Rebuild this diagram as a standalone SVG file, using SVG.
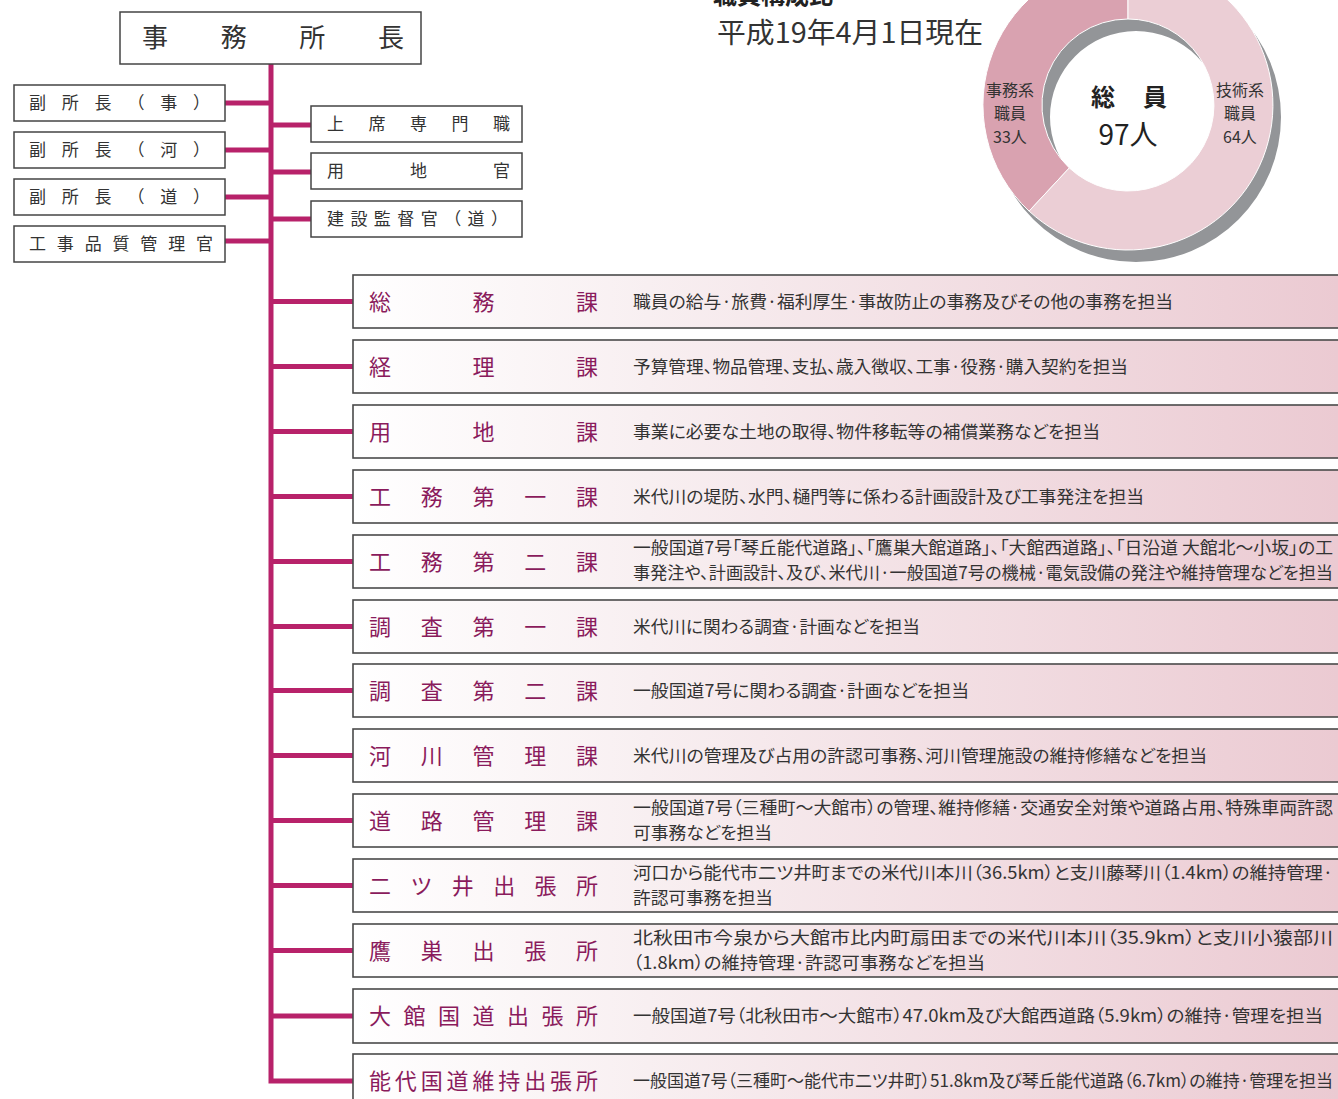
<svg xmlns="http://www.w3.org/2000/svg" width="1338" height="1099" viewBox="0 0 1338 1099">
<style>
.jp{font-family:"Noto Sans CJK JP","Noto Sans CJK SC",sans-serif;}
.box{fill:#fff;stroke:#444;stroke-width:1.5;}
.row{fill:url(#rowg);stroke:#4a4a4a;stroke-width:1.6;}
.sm{font-size:17px;fill:#333;}
.lbl{font-size:22px;fill:#8a1b5c;}
.desc{font-size:17.5px;fill:#333;font-feature-settings:"palt";}
.conn{stroke:#b8226a;stroke-width:5;fill:none;}
.dn{font-size:16px;fill:#333;text-anchor:middle;}
</style>
<defs>
<linearGradient id="rowg" gradientUnits="userSpaceOnUse" x1="353" y1="0" x2="1338" y2="0">
<stop offset="0" stop-color="#ffffff"/>
<stop offset="0.3" stop-color="#f8eff1"/>
<stop offset="1" stop-color="#ebcad2"/>
</linearGradient>
</defs>
<rect width="1338" height="1099" fill="#fff"/>

<g id="title">
<text class="jp" x="713" y="4" font-size="24" font-weight="bold" fill="#222" textLength="120" lengthAdjust="spacingAndGlyphs">職員構成比</text>
<text class="jp" x="717" y="43" font-size="28" fill="#333" textLength="266" lengthAdjust="spacingAndGlyphs">平成19年4月1日現在</text>
</g>

<g id="donut">
<path d="M1281,117 A145,145 0 1 1 991,117 A145,145 0 1 1 1281,117 Z M1222,117 A86,86 0 1 0 1050,117 A86,86 0 1 0 1222,117 Z" fill="#939598" fill-rule="evenodd"/>
<path d="M1128,-40 A145,145 0 0 0 1029.1,211.1 L1069.3,167.9 A86,86 0 0 1 1128,19 Z" fill="#d9a2b0" stroke="#fff" stroke-width="1"/>
<path d="M1128,-40 A145,145 0 1 1 1029.1,211.1 L1069.3,167.9 A86,86 0 1 0 1128,19 Z" fill="#ebced5" stroke="#fff" stroke-width="1"/>
<text class="jp dn" x="1010" y="96">事務系</text>
<text class="jp dn" x="1010" y="119">職員</text>
<text class="jp dn" x="1010" y="143">33人</text>
<text class="jp dn" x="1240" y="96">技術系</text>
<text class="jp dn" x="1240" y="119">職員</text>
<text class="jp dn" x="1240" y="143">64人</text>
<text class="jp" x="1091" y="106" font-size="24" font-weight="bold" fill="#222" textLength="76" lengthAdjust="spacing">総員</text>
<text class="jp" x="1128" y="145" font-size="28" fill="#222" text-anchor="middle">97人</text>
</g>

<g id="connectors">
<path class="conn" d="M271,64 V1081 H353"/>
<path class="conn" d="M225,103 H271 M225,150 H271 M225,197 H271 M225,241 H271"/>
<path class="conn" d="M271,125 H311 M271,172 H311 M271,219 H311"/>
<path class="conn" d="M271,301.5 H353 M271,366.5 H353 M271,431.5 H353 M271,496.5 H353 M271,561.5 H353 M271,626.5 H353 M271,690.5 H353 M271,755.5 H353 M271,820.5 H353 M271,885.5 H353 M271,950.5 H353 M271,1016 H353"/>
</g>

<g id="n-head">
<rect class="box" x="120" y="12" width="301" height="52"/>
<text class="jp" x="142" y="47" font-size="26" fill="#333" textLength="262" lengthAdjust="spacing">事務所長</text>
</g>

<g id="n-fuku1"><rect class="box" x="14" y="85" width="211" height="36"/><text class="jp sm" x="29" y="109" textLength="181" lengthAdjust="spacing">副所長（事）</text></g>
<g id="n-fuku2"><rect class="box" x="14" y="132" width="211" height="36"/><text class="jp sm" x="29" y="156" textLength="181" lengthAdjust="spacing">副所長（河）</text></g>
<g id="n-fuku3"><rect class="box" x="14" y="179" width="211" height="36"/><text class="jp sm" x="29" y="203" textLength="181" lengthAdjust="spacing">副所長（道）</text></g>
<g id="n-hinshitsu"><rect class="box" x="14" y="226" width="211" height="36"/><text class="jp sm" x="29" y="250" textLength="184" lengthAdjust="spacing">工事品質管理官</text></g>

<g id="n-joseki"><rect class="box" x="311" y="106" width="211" height="36"/><text class="jp sm" x="327" y="130" textLength="183" lengthAdjust="spacing">上席専門職</text></g>
<g id="n-yochikan"><rect class="box" x="311" y="153" width="211" height="36"/><text class="jp sm" x="327" y="177" textLength="183" lengthAdjust="spacing">用地官</text></g>
<g id="n-kensetsu"><rect class="box" x="311" y="201" width="211" height="36"/><text class="jp sm" x="327" y="225" textLength="181" lengthAdjust="spacing">建設監督官（道）</text></g>

<g id="n-somu"><rect class="row" x="353" y="275" width="990" height="53"/>
<text class="jp lbl" x="369" y="309.5" textLength="229" lengthAdjust="spacing">総務課</text>
<text class="jp desc" x="633" y="307.5" textLength="540" lengthAdjust="spacingAndGlyphs">職員の給与·旅費·福利厚生·事故防止の事務及びその他の事務を担当</text></g>

<g id="n-keiri"><rect class="row" x="353" y="340" width="990" height="53"/>
<text class="jp lbl" x="369" y="374.5" textLength="229" lengthAdjust="spacing">経理課</text>
<text class="jp desc" x="633" y="372.5" textLength="495" lengthAdjust="spacingAndGlyphs">予算管理、物品管理、支払、歳入徴収、工事·役務·購入契約を担当</text></g>

<g id="n-yochi"><rect class="row" x="353" y="405" width="990" height="53"/>
<text class="jp lbl" x="369" y="439.5" textLength="229" lengthAdjust="spacing">用地課</text>
<text class="jp desc" x="633" y="437.5" textLength="467" lengthAdjust="spacingAndGlyphs">事業に必要な土地の取得、物件移転等の補償業務などを担当</text></g>

<g id="n-komu1"><rect class="row" x="353" y="470" width="990" height="53"/>
<text class="jp lbl" x="369" y="504.5" textLength="229" lengthAdjust="spacing">工務第一課</text>
<text class="jp desc" x="633" y="502.5" textLength="511" lengthAdjust="spacingAndGlyphs">米代川の堤防、水門、樋門等に係わる計画設計及び工事発注を担当</text></g>

<g id="n-komu2"><rect class="row" x="353" y="535" width="990" height="53"/>
<text class="jp lbl" x="369" y="569.5" textLength="229" lengthAdjust="spacing">工務第二課</text>
<text class="jp desc" x="633" y="554" textLength="700" lengthAdjust="spacingAndGlyphs">一般国道7号「琴丘能代道路」、「鷹巣大館道路」、「大館西道路」、「日沿道 大館北～小坂」の工</text>
<text class="jp desc" x="633" y="579" textLength="700" lengthAdjust="spacingAndGlyphs">事発注や、計画設計、及び、米代川·一般国道7号の機械·電気設備の発注や維持管理などを担当</text></g>

<g id="n-chosa1"><rect class="row" x="353" y="600" width="990" height="53"/>
<text class="jp lbl" x="369" y="634.5" textLength="229" lengthAdjust="spacing">調査第一課</text>
<text class="jp desc" x="633" y="632.5" textLength="287" lengthAdjust="spacingAndGlyphs">米代川に関わる調査·計画などを担当</text></g>

<g id="n-chosa2"><rect class="row" x="353" y="664" width="990" height="53"/>
<text class="jp lbl" x="369" y="698.5" textLength="229" lengthAdjust="spacing">調査第二課</text>
<text class="jp desc" x="633" y="696.5" textLength="336" lengthAdjust="spacingAndGlyphs">一般国道7号に関わる調査·計画などを担当</text></g>

<g id="n-kasen"><rect class="row" x="353" y="729" width="990" height="53"/>
<text class="jp lbl" x="369" y="763.5" textLength="229" lengthAdjust="spacing">河川管理課</text>
<text class="jp desc" x="633" y="761.5" textLength="574" lengthAdjust="spacingAndGlyphs">米代川の管理及び占用の許認可事務、河川管理施設の維持修繕などを担当</text></g>

<g id="n-doro"><rect class="row" x="353" y="794" width="990" height="53"/>
<text class="jp lbl" x="369" y="828.5" textLength="229" lengthAdjust="spacing">道路管理課</text>
<text class="jp desc" x="633" y="814" textLength="700" lengthAdjust="spacingAndGlyphs">一般国道7号（三種町～大館市）の管理、維持修繕·交通安全対策や道路占用、特殊車両許認</text>
<text class="jp desc" x="633" y="839" textLength="139" lengthAdjust="spacingAndGlyphs">可事務などを担当</text></g>

<g id="n-futatsui"><rect class="row" x="353" y="859" width="990" height="53"/>
<text class="jp lbl" x="369" y="893.5" textLength="229" lengthAdjust="spacing">二ツ井出張所</text>
<text class="jp desc" x="633" y="879" textLength="700" lengthAdjust="spacingAndGlyphs">河口から能代市二ツ井町までの米代川本川（36.5km）と支川藤琴川（1.4km）の維持管理·</text>
<text class="jp desc" x="633" y="904" textLength="140" lengthAdjust="spacingAndGlyphs">許認可事務を担当</text></g>

<g id="n-takanosu"><rect class="row" x="353" y="924" width="990" height="53"/>
<text class="jp lbl" x="369" y="958.5" textLength="229" lengthAdjust="spacing">鷹巣出張所</text>
<text class="jp desc" x="633" y="944" textLength="700" lengthAdjust="spacingAndGlyphs">北秋田市今泉から大館市比内町扇田までの米代川本川（35.9km）と支川小猿部川</text>
<text class="jp desc" x="633" y="969" textLength="352" lengthAdjust="spacingAndGlyphs">（1.8km）の維持管理·許認可事務などを担当</text></g>

<g id="n-odate"><rect class="row" x="353" y="989" width="990" height="54"/>
<text class="jp lbl" x="369" y="1024" textLength="229" lengthAdjust="spacing">大館国道出張所</text>
<text class="jp desc" x="633" y="1022" textLength="690" lengthAdjust="spacingAndGlyphs">一般国道7号（北秋田市～大館市）47.0km及び大館西道路（5.9km）の維持·管理を担当</text></g>

<g id="n-noshiro"><rect class="row" x="353" y="1054" width="990" height="54"/>
<text class="jp lbl" x="369" y="1089" textLength="229" lengthAdjust="spacing">能代国道維持出張所</text>
<text class="jp desc" x="633" y="1087" textLength="700" lengthAdjust="spacingAndGlyphs">一般国道7号（三種町～能代市二ツ井町）51.8km及び琴丘能代道路（6.7km）の維持·管理を担当</text></g>
</svg>
